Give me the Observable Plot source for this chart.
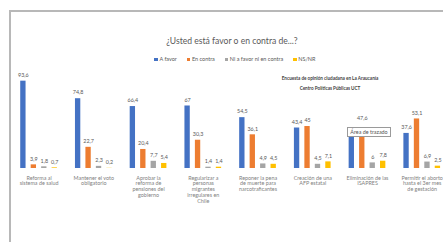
<!DOCTYPE html>
<html>
<head>
<meta charset="utf-8">
<script src="https://cdn.jsdelivr.net/npm/d3@7"></script>
<script src="https://cdn.jsdelivr.net/npm/@observablehq/plot@0.6"></script>
<style>
  html, body { margin: 0; padding: 0; background: #fff; width: 443px; height: 242px; overflow: hidden; font-family: Lato, "Open Sans", sans-serif; }
  #frame { position: absolute; left: 9px; top: 10px; width: 520px; height: 300px; border-left: 2px solid #b8b8b8; border-top: 2px solid #b8b8b8; }
  #title { position: absolute; left: 12px; width: 440px; top: 36px; text-align: center; font-size: 8.6px; color: #595959; }
  #legend { position: absolute; left: 12px; width: 446px; top: 56px; text-align: center; font-size: 5.5px; color: #595959; white-space: nowrap; }
  #legend span.item { margin: 0 5px; }
  #legend span.sw { display: inline-block; width: 3.5px; height: 3.5px; margin-right: 1.5px; }
  .note { position: absolute; font-size: 4.6px; font-weight: bold; color: #404040; text-align: center; white-space: nowrap; }
  #chart { position: absolute; left: 0; top: 60px; width: 460px; }
  #chart svg { max-width: none; }
  #tipwrap { position: absolute; left: 345px; top: 121.5px; width: 47px; height: 14.5px; background: #fff; }
  #tip { position: absolute; left: 2px; top: 5px; width: 42px; height: 8px; border: 1px solid #9a9a9a; background: #fff; font-size: 5.4px; color: #555; text-align: center; line-height: 8px; }
</style>
</head>
<body>
<div id="frame"></div>
<div id="title">¿Usted está favor o en contra de...?</div>
<div id="legend"></div>
<div class="note" style="left:230px;width:200px;top:74.5px;">Encuesta de opinión ciudadana en La Araucanía</div>
<div class="note" style="left:230px;width:200px;top:84.5px;">Centro Políticas Públicas UCT</div>
<div id="chart"></div>
<div id="tipwrap"><div id="tip">Área de trazado</div></div>
<script>
const categories = [
  "Reforma al\nsistema de salud",
  "Mantener el voto\nobligatorio",
  "Aprobar la\nreforma de\npensiones del\ngobierno",
  "Regularizar a\npersonas\nmigrantes\nirregulares en\nChile",
  "Reponer la pena\nde muerte para\nnarcotraficantes",
  "Creación de una\nAFP estatal",
  "Eliminación de las\nISAPRES",
  "Permitir el aborto\nhasta el 3er mes\nde gestación"
];
const seriesNames = ["A favor", "En contra", "Ni a favor ni en contra", "NS/NR"];
const seriesColors = ["#4472C4", "#ED7D31", "#A5A5A5", "#FFC000"];
const aFavor   = [93.6, 74.8, 66.4, 67, 54.5, 43.4, 38.6, 37.6];
const enContra = [3.9, 22.7, 20.4, 30.3, 36.1, 45, 47.6, 53.1];
const niNi     = [1.8, 2.3, 7.7, 1.4, 4.9, 4.5, 6, 6.9];
const nsnr     = [0.7, 0.2, 5.4, 1.4, 4.5, 7.1, 7.8, 2.5];

const seriesValues = [aFavor, enContra, niNi, nsnr];
const rows = [];
categories.forEach((c, i) => {
  seriesNames.forEach((s, j) => rows.push({cat: c, series: s, value: seriesValues[j][i]}));
});
const fmt = v => String(v).replace(".", ",");

const lg = document.getElementById("legend");
seriesNames.forEach((s, j) => {
  const it = document.createElement("span");
  it.className = "item";
  it.innerHTML = `<span class="sw" style="background:${seriesColors[j]}"></span>${s}`;
  lg.appendChild(it);
});

const chart = Plot.plot({
  width: 460,
  height: 182,
  marginLeft: 11,
  marginRight: 11,
  marginTop: 14.7,
  marginBottom: 74,
  style: {fontFamily: "Lato, 'Open Sans', sans-serif", background: "transparent", maxWidth: "none"},
  fx: {domain: categories, range: [11.2, 449.1], round: false, paddingInner: 0.236, paddingOuter: 0.118, axis: null},
  x: {domain: seriesNames, round: false, paddingInner: 0.49, paddingOuter: 0.245, axis: null},
  y: {domain: [0, 100], axis: null},
  color: {domain: seriesNames, range: seriesColors},
  marks: [
    Plot.barY(rows, {fx: "cat", x: "series", y: "value", fill: "series"}),
    Plot.text(rows, {fx: "cat", x: "series", y: "value", text: d => fmt(d.value), dy: -6, fontSize: 5.4, fill: "#595959"}),
    Plot.text(categories, {fx: d => d, text: d => d, frameAnchor: "bottom", lineAnchor: "top", dy: 7, fontSize: 5.4, lineHeight: 1.07, fill: "#7f7f7f"})
  ]
});
document.getElementById("chart").appendChild(chart);
</script>
</body>
</html>
